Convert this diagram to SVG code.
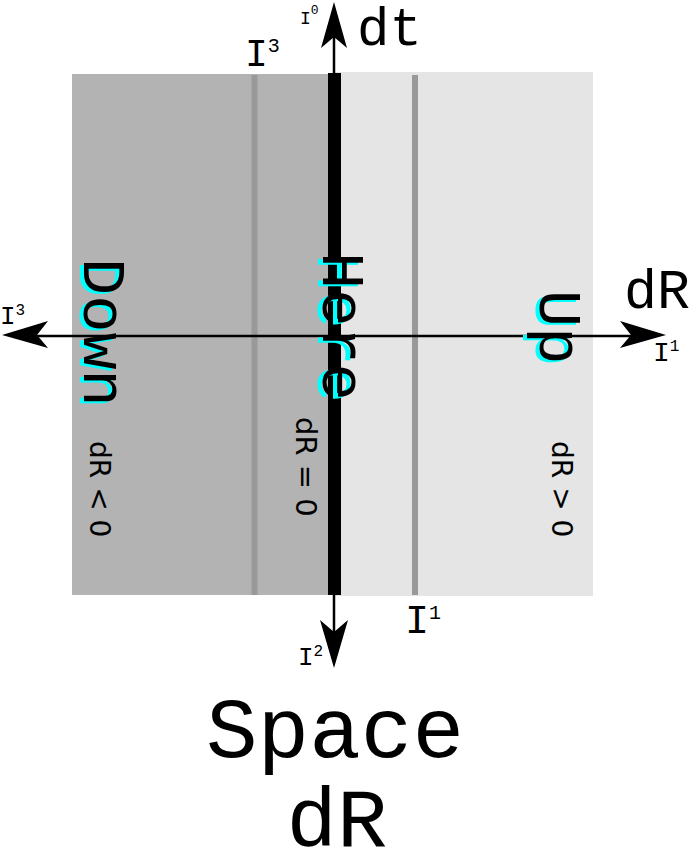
<svg xmlns="http://www.w3.org/2000/svg" width="699" height="859" viewBox="0 0 699 859">
<style>
.mono{font-family:"Liberation Mono","DejaVu Sans Mono",monospace;fill:#000}
.sans{font-family:"DejaVu Sans","Liberation Sans",sans-serif;fill:#000}
.cy{fill:#00ffff}
.ax{stroke:#000;stroke-width:2.5;fill:none}
.ah{fill:#000}
.gl{stroke:#999;stroke-width:6}
</style>
<rect width="699" height="859" fill="#fff"/>
<g id="regions">
<rect id="down-region" x="72" y="74" width="262" height="521" fill="#b3b3b3"/>
<rect id="up-region" x="334" y="72" width="259" height="524" fill="#e5e5e5"/>
<line class="gl" x1="254.5" y1="75" x2="254.5" y2="595"/>
<line class="gl" x1="415" y1="75" x2="415" y2="595"/>
<rect id="here-bar" x="328" y="73" width="13" height="522" fill="#000"/>
</g>
<g id="connectors">
<line class="ax" x1="334" y1="30" x2="334" y2="640"/>
<line class="ax" x1="30" y1="336" x2="640" y2="336"/>
<path class="ah" d="M334,2 L347,48 L334,37 L321,48 Z"/>
<path class="ah" d="M334,668 L348,620 L334,632 L320,620 Z"/>
<path class="ah" d="M2,335 L48,321 L37,335 L48,348 Z"/>
<path class="ah" d="M666,335 L620,321 L631,335 L620,348 Z"/>
</g>
<g id="axis-labels">
<text class="mono" x="357" y="45" font-size="54">dt</text>
<text class="mono" x="624" y="308" font-size="55">dR</text>
<text class="mono" x="300" y="24" font-size="18">I<tspan font-size="13" dy="-10">0</tspan></text>
<text class="mono" x="245" y="66" font-size="38">I<tspan font-size="20" dy="-14">3</tspan></text>
<text class="mono" x="0" y="324" font-size="26">I<tspan font-size="16" dy="-9">3</tspan></text>
<text class="mono" x="653" y="361" font-size="28">I<tspan font-size="16" dy="-10">1</tspan></text>
<text class="mono" x="405" y="633" font-size="40">I<tspan font-size="20" dy="-14">1</tspan></text>
<text class="mono" x="298" y="665" font-size="26">I<tspan font-size="16" dy="-9">2</tspan></text>
</g>
<g id="down">
<text class="mono cy" font-size="62" transform="translate(80,260) rotate(90)">Down</text>
<text class="mono" font-size="62" transform="translate(84,258) rotate(90)">Down</text>
<text class="sans" font-size="28" transform="translate(90,441) rotate(90)">dR &lt; 0</text>
</g>
<g id="here">
<text class="mono cy" font-size="62" transform="translate(318,254) rotate(90)">Here</text>
<text class="mono" font-size="62" transform="translate(323,252) rotate(90)">Here</text>
<text class="sans" font-size="29" transform="translate(296,417) rotate(90)">dR = 0</text>
</g>
<g id="up">
<text class="mono cy" font-size="62" transform="translate(536,292) rotate(90)">Up</text>
<text class="mono" font-size="62" transform="translate(540,290) rotate(90)">Up</text>
<text class="sans" font-size="28" transform="translate(552,441) rotate(90)">dR &gt; 0</text>
</g>
<g id="title">
<text class="mono" x="335" y="757" font-size="86" text-anchor="middle">Space</text>
<text class="mono" x="337" y="846" font-size="84" text-anchor="middle">dR</text>
</g>
</svg>
